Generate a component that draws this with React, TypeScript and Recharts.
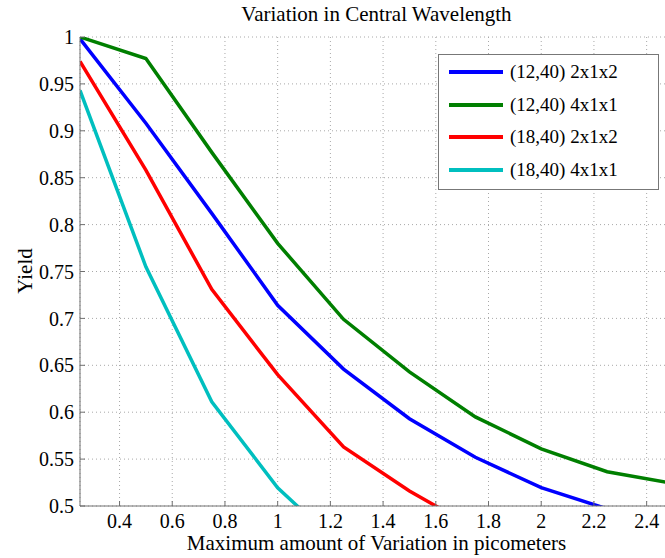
import { CartesianGrid, Line, LineChart, XAxis, YAxis } from "recharts";

// yield vs maximum variation (picometers)
const xValues = [0.25, 0.5, 0.75, 1, 1.25, 1.5, 1.75, 2, 2.25, 2.5];
const blue1240 = [0.998, 0.908, 0.812, 0.714, 0.646, 0.593, 0.552, 0.5195, 0.497];
const green1240 = [1.0, 0.977, 0.877, 0.78, 0.699, 0.643, 0.595, 0.561, 0.5365, 0.524];
const red1840 = [0.974, 0.858, 0.731, 0.64, 0.563, 0.516, 0.476];
const cyan1840 = [0.943, 0.755, 0.611, 0.5195, 0.454];

const seriesNames = ["(12,40) 2x1x2", "(12,40) 4x1x1", "(18,40) 2x1x2", "(18,40) 4x1x1"];
const seriesColors = ["#0000ff", "#007f00", "#ff0000", "#00bfbf"];
const seriesValues = [blue1240, green1240, red1840, cyan1840];

const xTicks = [0.4, 0.6, 0.8, 1, 1.2, 1.4, 1.6, 1.8, 2, 2.2, 2.4];
const yTicks = [0.5, 0.55, 0.6, 0.65, 0.7, 0.75, 0.8, 0.85, 0.9, 0.95, 1];

const data = xValues.map((x, i) => {
  const row: Record<string, number | undefined> = { x };
  seriesValues.forEach((vals, s) => {
    row["s" + s] = vals[i];
  });
  return row;
});

const fmt = (v: number) => String(Math.round(v * 100) / 100);
const axisColor = "#707070";
const font = '"Liberation Serif", "Times New Roman", serif';

export default function App() {
  return (
    <div
      style={{
        position: "fixed",
        left: 0,
        top: 0,
        width: 665,
        height: 558,
        overflow: "hidden",
        background: "#fff",
        fontFamily: font,
        color: "#000",
      }}
    >
      <div
        style={{
          position: "absolute",
          left: 0,
          top: 4,
          width: 753,
          textAlign: "center",
          fontSize: 21,
          lineHeight: "21px",
        }}
      >
        Variation in Central Wavelength
      </div>
      <div
        style={{
          position: "absolute",
          left: 25,
          top: 271,
          transform: "translate(-50%, -50%) rotate(-90deg)",
          fontSize: 21,
          lineHeight: "21px",
          whiteSpace: "nowrap",
        }}
      >
        Yield
      </div>
      <div
        style={{
          position: "absolute",
          left: 0,
          top: 533,
          width: 753,
          textAlign: "center",
          fontSize: 21,
          lineHeight: "21px",
          whiteSpace: "nowrap",
        }}
      >
        Maximum amount of Variation in picometers
      </div>

      <LineChart
        width={674}
        height={558}
        data={data}
        margin={{ top: 37, right: 1, bottom: 0, left: 0 }}
        style={{ fontFamily: font }}
      >
        <CartesianGrid stroke="#a8a8a8" strokeDasharray="1 3" />
        <XAxis
          xAxisId="top"
          orientation="top"
          type="number"
          dataKey="x"
          domain={[0.25, 2.5]}
          ticks={xTicks}
          height={0}
          tickSize={-5}
          tickFormatter={() => ""}
          allowDataOverflow
          stroke={axisColor}
        />
        <XAxis
          type="number"
          dataKey="x"
          domain={[0.25, 2.5]}
          ticks={xTicks}
          tickFormatter={fmt}
          height={52}
          tickSize={-5}
          tickMargin={13}
          allowDataOverflow
          stroke={axisColor}
          tick={{ fontSize: 20, fill: "#000" }}
        />
        <YAxis
          type="number"
          domain={[0.5, 1]}
          ticks={yTicks}
          tickFormatter={fmt}
          width={80}
          tickSize={-5}
          tickMargin={11}
          allowDataOverflow
          stroke={axisColor}
          tick={{ fontSize: 20, fill: "#000" }}
        />
        {seriesNames.map((name, s) => (
          <Line
            key={name}
            name={name}
            dataKey={"s" + s}
            stroke={seriesColors[s]}
            strokeWidth={3.5}
            dot={false}
            activeDot={false}
            isAnimationActive={false}
          />
        ))}
      </LineChart>

      <div
        style={{
          position: "absolute",
          left: 438,
          top: 54,
          width: 221,
          height: 136,
          boxSizing: "border-box",
          border: "1px solid #777",
          background: "#fff",
        }}
      >
        {seriesNames.map((name, s) => (
          <div
            key={name}
            style={{
              position: "absolute",
              left: 0,
              top: 1 + s * 32.7,
              height: 32,
              display: "flex",
              alignItems: "center",
            }}
          >
            <div
              style={{
                marginLeft: 10,
                width: 54,
                height: 4,
                background: seriesColors[s],
              }}
            />
            <span style={{ marginLeft: 7, fontSize: 19, whiteSpace: "nowrap" }}>
              {name}
            </span>
          </div>
        ))}
      </div>
    </div>
  );
}
